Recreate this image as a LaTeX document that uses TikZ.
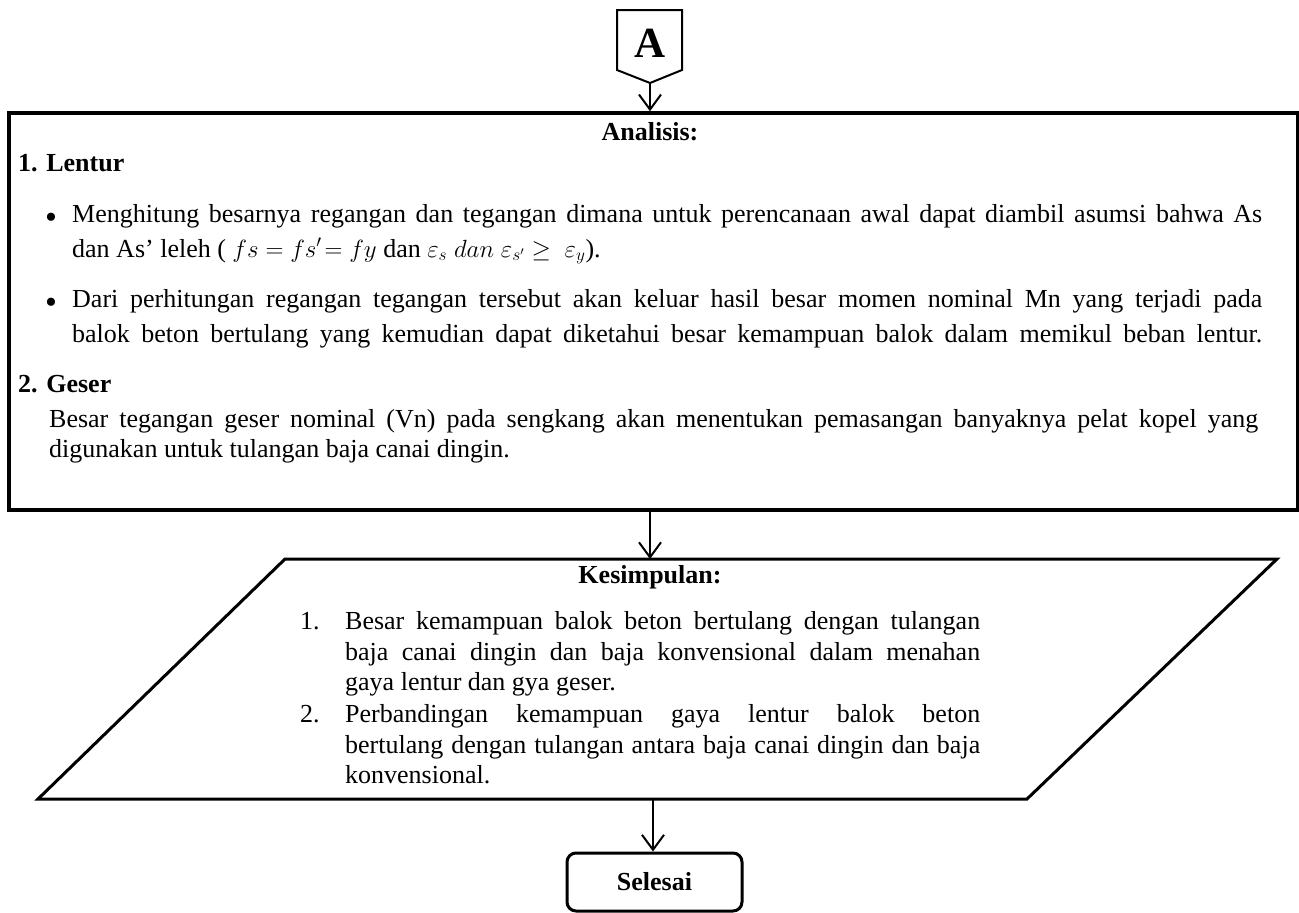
\documentclass[tikz,border=0pt]{standalone}
\usepackage{fontspec}
\setmainfont{Liberation Serif}
\usetikzlibrary{arrows.meta}
\begin{document}
\begin{tikzpicture}[x=1pt,y=-1pt,
  txt/.style={font=\fontsize{26}{30}\selectfont, inner sep=0pt, anchor=base west},
  bld/.style={font=\fontsize{26}{30}\selectfont\bfseries, inner sep=0pt, anchor=base west},
  bul/.style={font=\fontsize{34}{30}\selectfont, inner sep=0pt},
  arr/.style={line width=2pt, -{Straight Barb[length=15pt,width=22pt,line width=2pt]}},
  shapeline/.style={line width=3pt, line join=miter}]
\useasboundingbox (0,0) rectangle (1299,913);
% start connector symbol
\draw[line width=2pt] (617,10) -- (682,10) -- (682,70) -- (650,83) -- (617,70) -- cycle;
\node[font=\fontsize{43}{43}\selectfont\bfseries, inner sep=0pt] (A) at (650,43) {A};
\coordinate (Ap) at (650,83);
% analysis box
\node[draw, line width=3.5pt, inner sep=0pt, minimum width=1289pt, minimum height=397pt] (box) at (653.5,311.5) {};
\draw[arr] (Ap) -- (Ap |- box.north);
\node[bld, anchor=base] (ana) at (650,140) {Analisis:};
\node[bld] (len) at (18,171) {1. Lentur};
\node[bul] (b1) at (51,221) {\textbullet};
\node[txt] (l1) at (72,222) {\makebox[1190pt][s]{Menghitung besarnya regangan dan tegangan dimana untuk perencanaan awal dapat diambil asumsi bahwa As}};
\node[txt] (l2) at (72,257) {\smash{dan As’ leleh ( $fs = fs'\!= fy$ dan $\varepsilon_s\; dan\; \varepsilon_{s'}\geq\;\varepsilon_y$).}};
\node[bul] (b2) at (51,306) {\textbullet};
\node[txt] (l3) at (72,307) {\makebox[1190pt][s]{Dari perhitungan regangan tegangan tersebut akan keluar hasil besar momen nominal Mn yang terjadi pada}};
\node[txt] (l4) at (72,342) {\makebox[1190pt][s]{balok beton bertulang yang kemudian dapat diketahui besar kemampuan balok dalam memikul beban lentur.}};
\node[bld] (ges) at (18,392) {2. Geser};
\node[txt] (l5) at (49,427) {\makebox[1209pt][s]{Besar tegangan geser nominal (Vn) pada sengkang akan menentukan pemasangan banyaknya pelat kopel yang}};
\node[txt] (l6) at (49,457) {digunakan untuk tulangan baja canai dingin.};
% conclusion parallelogram
\coordinate (p1) at (285,559);
\coordinate (p2) at (1277,559);
\coordinate (p3) at (1027,799);
\coordinate (p4) at (38,799);
\draw[shapeline] (p1) -- (p2) -- (p3) -- (p4) -- cycle;
\coordinate (ptop) at (650,559);
\draw[arr] (box.south -| ptop) -- (ptop);
\node[bld, anchor=base] (kes) at (650,583) {Kesimpulan:};
\node[txt] (n1) at (300,629) {1.};
\node[txt] (k1) at (345,629) {\makebox[635pt][s]{Besar kemampuan balok beton bertulang dengan tulangan}};
\node[txt] (k2) at (345,660) {\makebox[635pt][s]{baja canai dingin dan baja konvensional dalam menahan}};
\node[txt] (k3) at (345,690) {gaya lentur dan gya geser.};
\node[txt] (n2) at (300,722) {2.};
\node[txt] (k4) at (345,722) {\makebox[635pt][s]{Perbandingan kemampuan gaya lentur balok beton}};
\node[txt] (k5) at (345,753) {\makebox[635pt][s]{bertulang dengan tulangan antara baja canai dingin dan baja}};
\node[txt] (k6) at (345,783) {konvensional.};
% end terminal
\coordinate (pbot) at (653,799);
\node[draw, line width=3pt, rounded corners=9pt, minimum width=175pt, minimum height=58pt, inner sep=0pt, font=\fontsize{26}{30}\selectfont\bfseries] (sel) at (654.5,882) {Selesai};
\draw[arr] (pbot) -- (pbot |- sel.north);
\end{tikzpicture}
\end{document}
